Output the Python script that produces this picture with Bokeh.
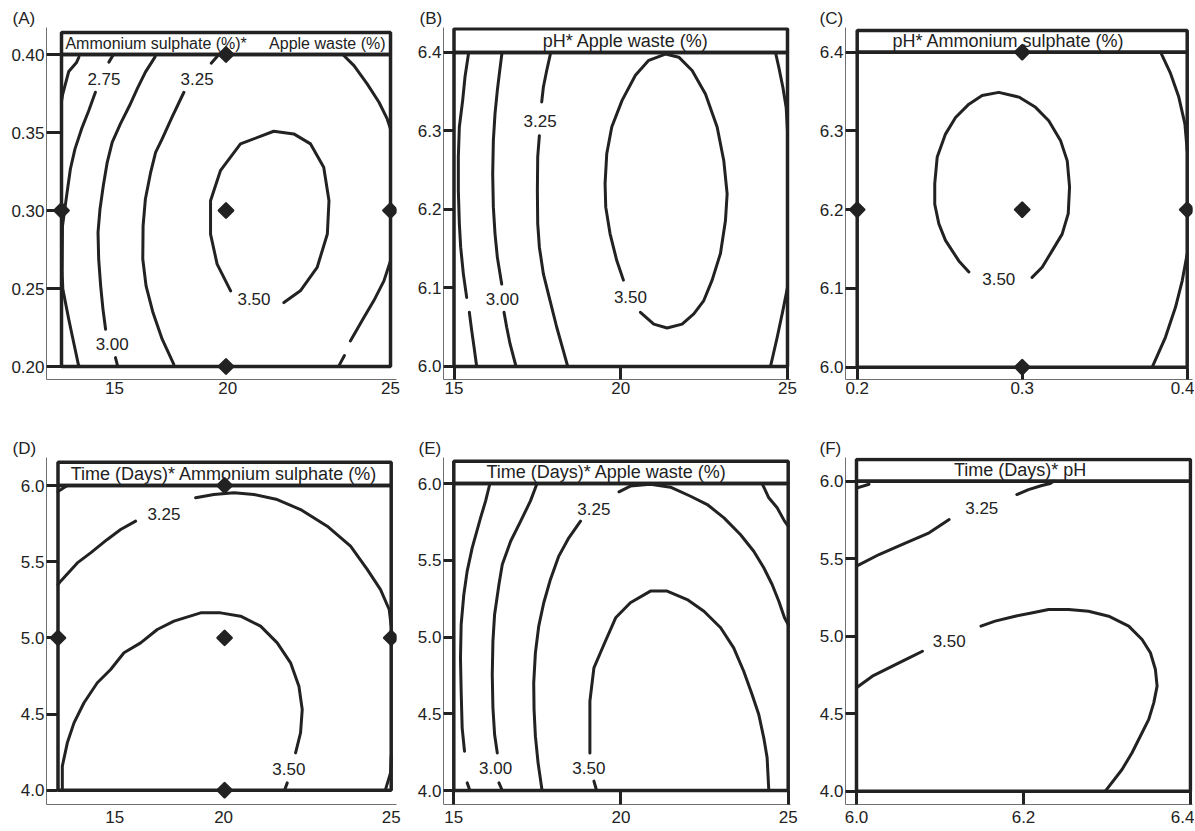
import math
from bokeh.plotting import figure
from bokeh.layouts import column, row
from bokeh.models import FixedTicker, PrintfTickFormatter
from bokeh.core.properties import value
from bokeh.embed import file_html
from bokeh.resources import INLINE

FONT = "Liberation Sans"
INK = "#222222"

# ------------------------------------------------------------------ data
# (A) Ammonium sulphate (%) * Apple waste (%)
A_tag = "(A)"
A_headers = ["Ammonium sulphate (%)*", "Apple waste (%)"]
A_xtick_labels = ["15", "20", "25"]
A_yticks = [0.20, 0.25, 0.30, 0.35, 0.40]
A_design_x = [20, 20, 20, 15, 25]
A_design_y = [0.40, 0.30, 0.20, 0.30, 0.30]
A_lines_x = [
    [15.53, 15.45, 15.22, 15.12, 15.04, 15.0],
    [16.58, 16.44],
    [16.03, 15.83, 15.61, 15.41, 15.27, 15.17, 15.10, 15.03, 15.02, 15.04, 15.22, 15.37, 15.51, 15.54],
    [17.86, 17.84, 17.55, 17.30, 17.07, 16.79, 16.54, 16.39, 16.27, 16.17, 16.11, 16.13, 16.19, 16.26, 16.34],
    [16.64, 16.70, 16.71],
    [19.76, 19.73, 19.55],
    [18.72, 18.36, 18.06, 17.86, 17.71, 17.55, 17.48, 17.47, 17.57, 17.78, 18.06, 18.41, 18.42],
    [23.57, 23.58, 23.89, 24.29, 24.65, 24.90, 25.0],
    [25.0, 24.80, 24.49, 24.19, 23.78],
    [23.60, 23.43, 23.42],
    [21.76, 22.26, 22.77, 23.08, 23.13, 22.97, 22.57, 22.06, 21.45, 20.44, 19.83, 19.53, 19.53, 19.73, 20.14],
]
A_lines_y = [
    [0.3983, 0.3947, 0.3891, 0.3812, 0.3748, 0.370],
    [0.4, 0.3951],
    [0.3758, 0.3641, 0.3523, 0.3395, 0.3266, 0.3116, 0.3009, 0.29, 0.26, 0.2496, 0.2303, 0.2154, 0.2015, 0.2],
    [0.4, 0.3983, 0.3887, 0.3780, 0.3673, 0.3555, 0.3437, 0.3309, 0.3159, 0.3009, 0.2860, 0.2689, 0.2517, 0.2368, 0.2239],
    [0.2057, 0.2008, 0.2],
    [0.4, 0.3987, 0.3944],
    [0.3758, 0.3598, 0.3459, 0.3373, 0.3245, 0.3074, 0.2902, 0.2689, 0.2517, 0.2346, 0.2175, 0.2015, 0.2],
    [0.4, 0.3994, 0.3929, 0.3812, 0.3694, 0.3587, 0.3523],
    [0.2678, 0.2549, 0.2421, 0.2314, 0.2164],
    [0.2070, 0.2004, 0.2],
    [0.2410, 0.2485, 0.2635, 0.2849, 0.3063, 0.3277, 0.3427, 0.3491, 0.3508, 0.3427, 0.3255, 0.3063, 0.2849, 0.2656, 0.2485],
]
A_level_text = ["2.75", "3.00", "3.25", "3.50"]
A_level_x = [16.29, 16.54, 19.12, 20.85]
A_level_y = [0.3844, 0.2147, 0.3844, 0.2432]

# (B) pH * Apple waste (%)
B_tag = "(B)"
B_headers = ["pH* Apple waste (%)"]
B_xticks = [15, 20, 25]
B_yticks = [6.0, 6.1, 6.2, 6.3, 6.4]
B_lines_x = [
    [15.44, 15.33, 15.26, 15.16, 15.13, 15.13, 15.16, 15.20, 15.28, 15.38],
    [15.46, 15.53, 15.60, 15.68],
    [16.44, 16.36, 16.30, 16.23, 16.18, 16.16, 16.18, 16.23, 16.30, 16.38, 16.43],
    [16.50, 16.58, 16.68, 16.86],
    [17.90, 17.78, 17.68, 17.63],
    [17.56, 17.51, 17.50, 17.51, 17.56, 17.68, 17.88, 18.08, 18.28, 18.41],
    [20.59, 20.99, 21.39, 21.84, 22.19, 22.49, 22.74, 22.99, 23.14, 23.19, 23.09, 22.89, 22.54,
     22.14, 21.74, 21.34, 20.84, 20.44, 20.04, 19.73, 19.58, 19.53, 19.55, 19.68, 19.88, 20.08],
    [24.64, 24.74, 24.86, 24.96, 25.0],
    [25.0, 24.86, 24.69, 24.49],
]
B_lines_y = [
    [6.4, 6.369, 6.339, 6.305, 6.267, 6.224, 6.182, 6.152, 6.118, 6.088],
    [6.069, 6.046, 6.025, 6.0],
    [6.4, 6.373, 6.352, 6.322, 6.288, 6.245, 6.203, 6.169, 6.139, 6.118, 6.105],
    [6.069, 6.050, 6.029, 6.0],
    [6.4, 6.377, 6.356, 6.337],
    [6.294, 6.267, 6.224, 6.182, 6.152, 6.118, 6.084, 6.050, 6.020, 6.0],
    [6.069, 6.054, 6.049, 6.054, 6.067, 6.084, 6.110, 6.144, 6.186, 6.220, 6.262, 6.305, 6.347,
     6.377, 6.394, 6.398, 6.390, 6.371, 6.339, 6.305, 6.271, 6.233, 6.203, 6.169, 6.135, 6.110],
    [6.4, 6.381, 6.356, 6.330, 6.30],
    [6.101, 6.071, 6.037, 6.0],
]
B_level_text = ["3.00", "3.25", "3.50"]
B_level_x = [16.45, 17.58, 20.29]
B_level_y = [6.086, 6.313, 6.088]

# (C) pH * Ammonium sulphate (%)
C_tag = "(C)"
C_headers = ["pH* Ammonium sulphate (%)"]
C_xticks = [0.2, 0.3, 0.4]
C_yticks = [6.0, 6.1, 6.2, 6.3, 6.4]
C_design_x = [0.3, 0.3, 0.3, 0.2, 0.4]
C_design_y = [6.4, 6.2, 6.0, 6.2, 6.2]
C_lines_x = [
    [0.3060, 0.3121, 0.3182, 0.3242, 0.3279, 0.3287, 0.3273, 0.3232, 0.3161, 0.3081, 0.2980, 0.2858,
     0.2757, 0.2677, 0.2596, 0.2535, 0.2485, 0.2470, 0.2470, 0.2495, 0.2535, 0.2616, 0.2677],
    [0.3840, 0.3848, 0.3899, 0.3949, 0.3986, 0.40],
    [0.40, 0.3970, 0.3929, 0.3868, 0.3788],
]
C_lines_y = [
    [6.114, 6.127, 6.148, 6.169, 6.195, 6.229, 6.262, 6.288, 6.313, 6.330, 6.343, 6.349,
     6.345, 6.334, 6.317, 6.296, 6.267, 6.233, 6.207, 6.182, 6.161, 6.135, 6.121],
    [6.4, 6.396, 6.373, 6.343, 6.309, 6.275],
    [6.144, 6.110, 6.076, 6.038, 6.0],
]
C_level_text = ["3.50"]
C_level_x = [0.2858]
C_level_y = [6.112]

# (D) Time (Days) * Ammonium sulphate (%)
D_tag = "(D)"
D_headers = ["Time (Days)* Ammonium sulphate (%)"]
D_xtick_labels = ["15", "20", "25"]
D_yticks = [4.0, 4.5, 5.0, 5.5, 6.0]
D_design_x = [20, 20, 20, 15, 25]
D_design_y = [6.0, 5.0, 4.0, 5.0, 5.0]
D_lines_x = [
    [15.0, 15.28],
    [15.0, 15.08, 15.58, 15.98, 16.48, 16.88, 17.33],
    [19.13, 19.68, 20.28, 20.88, 21.58, 22.28, 23.08, 23.78, 24.28, 24.68, 24.94, 25.0],
    [25.0, 24.98, 24.83],
    [15.13, 15.13, 15.28, 15.48, 15.78, 16.18, 16.58, 16.98, 17.48, 17.98, 18.48, 19.28, 19.88,
     20.48, 21.08, 21.58, 21.98, 22.23, 22.33, 22.28, 22.13],
    [21.88, 21.80],
]
D_lines_y = [
    [5.96, 6.0],
    [5.35, 5.372, 5.492, 5.558, 5.646, 5.711, 5.766],
    [5.919, 5.941, 5.952, 5.941, 5.908, 5.842, 5.733, 5.602, 5.449, 5.317, 5.186, 5.077],
    [4.223, 4.114, 4.005],
    [4.0, 4.158, 4.311, 4.442, 4.574, 4.705, 4.792, 4.902, 4.967, 5.055, 5.110, 5.164, 5.164,
     5.142, 5.077, 4.967, 4.836, 4.683, 4.530, 4.377, 4.245],
    [4.048, 4.0],
]
D_level_text = ["3.25", "3.50"]
D_level_x = [18.18, 21.93]
D_level_y = [5.810, 4.136]

# (E) Time (Days) * Apple waste (%)
E_tag = "(E)"
E_headers = ["Time (Days)* Apple waste (%)"]
E_xticks = [15, 20, 25]
E_yticks = [4.0, 4.5, 5.0, 5.5, 6.0]
E_lines_x = [
    [16.08, 15.95, 15.80, 15.55, 15.40, 15.30, 15.22, 15.20, 15.22, 15.25, 15.32],
    [15.40, 15.48],
    [17.49, 17.29, 17.00, 16.70, 16.45, 16.35, 16.22, 16.17, 16.15, 16.17, 16.22, 16.30],
    [16.35, 16.45],
    [18.79, 18.44, 18.14, 17.89, 17.69, 17.54, 17.44, 17.39, 17.40, 17.44, 17.52, 17.64],
    [19.94, 20.28, 20.88, 21.48, 22.08, 22.58, 23.08, 23.57, 23.97, 24.27, 24.52, 24.72, 24.89, 25.0],
    [24.22, 24.42, 24.67, 24.89, 25.0],
    [19.07, 19.07, 19.19, 19.49, 19.84, 20.28, 20.88, 21.38, 21.98, 22.48, 22.98, 23.37, 23.67,
     23.92, 24.12, 24.27, 24.37, 24.42],
    [19.19, 19.27],
]
E_lines_y = [
    [6.0, 5.885, 5.776, 5.581, 5.429, 5.277, 5.081, 4.864, 4.647, 4.408, 4.256],
    [4.050, 4.0],
    [6.0, 5.885, 5.755, 5.624, 5.472, 5.342, 5.147, 4.973, 4.756, 4.539, 4.365, 4.245],
    [4.050, 4.0],
    [5.755, 5.646, 5.527, 5.375, 5.223, 5.071, 4.897, 4.701, 4.528, 4.354, 4.180, 4.0],
    [5.946, 5.983, 5.995, 5.976, 5.917, 5.863, 5.776, 5.668, 5.559, 5.451, 5.342, 5.233, 5.125, 5.081],
    [6.0, 5.907, 5.842, 5.755, 5.722],
    [4.245, 4.582, 4.799, 4.951, 5.125, 5.223, 5.299, 5.299, 5.244, 5.168, 5.060, 4.929, 4.777,
     4.625, 4.495, 4.343, 4.213, 4.0],
    [4.061, 4.0],
]
E_level_text = ["3.00", "3.25", "3.50"]
E_level_x = [16.25, 19.19, 19.04]
E_level_y = [4.148, 5.835, 4.148]

# (F) Time (Days) * pH
F_tag = "(F)"
F_headers = ["Time (Days)* pH"]
F_xticks = [6.0, 6.2, 6.4]
F_yticks = [4.0, 4.5, 5.0, 5.5, 6.0]
F_lines_x = [
    [6.0, 6.015],
    [6.0, 6.027, 6.055, 6.087, 6.111],
    [6.192, 6.206, 6.222, 6.232, 6.236],
    [6.0, 6.019, 6.043, 6.063, 6.079],
    [6.149, 6.166, 6.190, 6.214, 6.230, 6.254, 6.278, 6.302, 6.326, 6.342, 6.352, 6.358, 6.360,
     6.356, 6.350, 6.342, 6.330, 6.318, 6.298],
]
F_lines_y = [
    [5.955, 5.98],
    [5.452, 5.527, 5.592, 5.667, 5.753],
    [5.914, 5.946, 5.972, 5.985, 6.0],
    [4.667, 4.742, 4.807, 4.860, 4.903],
    [5.065, 5.097, 5.129, 5.155, 5.172, 5.172, 5.161, 5.129, 5.065, 4.979, 4.893, 4.785, 4.678,
     4.570, 4.463, 4.377, 4.248, 4.140, 4.0],
]
F_level_text = ["3.25", "3.50"]
F_level_x = [6.150, 6.111]
F_level_y = [5.828, 4.968]


# ------------------------------------------------------------------ drawing
def build(c):
    x0, x1 = c["xr"]
    y0, y1 = c["yr"]
    w, h = c["size"]
    bl, br, bt, bb = c["borders"]
    p = figure(width=w, height=h, x_range=(x0, x1), y_range=(y0, y1),
               output_backend="svg", toolbar_location=None, title=c["tag"],
               min_border_left=bl, min_border_right=br,
               min_border_top=bt, min_border_bottom=bb)
    fw, fh = w - bl - br, h - bt - bb
    sx, sy = fw / (x1 - x0), fh / (y1 - y0)
    bx0, bx1, by0, by1, htop = c["box"]
    p.grid.visible = False
    p.outline_line_color = None
    p.background_fill_color = "white"
    p.border_fill_color = "white"

    # panel tag as title, placed left of the frame
    p.title.align = "left"
    p.title.offset = c["tagoff"]
    p.title.standoff = 0
    p.title.text_font = FONT
    p.title.text_font_size = "17px"
    p.title.text_font_style = "normal"
    p.title.text_color = INK

    for ax in (p.xaxis[0], p.yaxis[0]):
        ax.axis_line_color = "#707070"
        ax.axis_line_width = 1
        ax.major_tick_out = 0
        ax.minor_tick_line_color = None
        ax.major_tick_line_color = INK
        ax.major_tick_line_width = 3
        ax.major_label_text_font = FONT
        ax.major_label_text_font_size = "17px"
        ax.major_label_text_color = INK
    p.yaxis[0].major_label_standoff = 2
    p.xaxis[0].major_label_standoff = c["xstand"]
    p.yaxis[0].major_tick_in = int(round((bx0 - x0) * sx))
    p.xaxis[0].major_tick_in = int(round((by0 - y0) * sy))

    p.xaxis[0].ticker = FixedTicker(ticks=c["xticks"])
    p.yaxis[0].ticker = FixedTicker(ticks=c["yticks"])
    if c.get("xfmt"):
        p.xaxis[0].formatter = PrintfTickFormatter(format=c["xfmt"])
    p.yaxis[0].formatter = PrintfTickFormatter(format=c["yfmt"])
    if c.get("xoverride"):
        p.xaxis[0].major_label_overrides = dict(zip(c["xticks"], c["xoverride"]))
        p.xaxis[0].major_tick_line_color = None

    # heavy frame + header strip
    p.quad(left=[bx0, bx0], right=[bx1, bx1], bottom=[by0, by1], top=[by1, htop],
           fill_color=None, line_color=INK, line_width=3.5)

    # contour lines
    p.multi_line(xs=c["lx"], ys=c["ly"], line_color=INK, line_width=3,
                 line_join="round", line_cap="round")

    # contour level labels
    p.text(x=c["tx"], y=c["ty"], text=c["tt"], text_font=value(FONT),
           text_font_size="17px", text_align="center", text_baseline="middle",
           text_color=INK)

    # header text
    for txt, hx, align in zip(c["headers"], c["hx"], c["halign"]):
        p.text(x=[hx], y=[(by1 + htop) / 2], text=[txt], text_font=value(FONT),
               text_font_size=c["hsize"], text_align=align, text_baseline="middle",
               text_color=INK)

    # design points
    if c.get("dx"):
        p.scatter(x=c["dx"], y=c["dy"], marker="square", angle=math.pi / 4, size=10,
                  fill_color=INK, line_color=INK, line_width=2.5, line_join="round")
    return p


ROW1_H, ROW2_H = 436, 394
W1, W2, W3 = 405, 402, 387
B1 = (46, 9)
B2 = (38, 17)
B3 = (38, 2)
T1 = (27, 57)
T2 = (21, 26)

cfgA = dict(tag=A_tag, xr=(14.544, 25.182), yr=(0.19167, 0.41731), size=(W1, ROW1_H),
            borders=B1 + T1, box=(15, 25, 0.2, 0.4, 0.4141), xstand=2,
            xticks=[16.61, 20.05, 25.0], xoverride=A_xtick_labels,
            yticks=A_yticks, yfmt="%.2f",
            lx=A_lines_x, ly=A_lines_y, tx=A_level_x, ty=A_level_y, tt=A_level_text,
            headers=A_headers, hx=[15.12, 24.85], halign=["left", "right"], hsize="16px",
            dx=A_design_x, dy=A_design_y, tagoff=-34)
cfgB = dict(tag=B_tag, xr=(14.685, 25.09), yr=(5.98344, 6.4318), size=(W2, ROW1_H),
            borders=B2 + T1, box=(15, 25, 6.0, 6.4, 6.4302), xstand=2,
            xticks=B_xticks, xfmt="%d", yticks=B_yticks, yfmt="%.1f",
            lx=B_lines_x, ly=B_lines_y, tx=B_level_x, ty=B_level_y, tt=B_level_text,
            headers=B_headers, hx=[20.15], halign=["center"], hsize="18px", tagoff=-24)
cfgC = dict(tag=C_tag, xr=(0.19291, 0.40321), yr=(5.98438, 6.43137), size=(W3, ROW1_H),
            borders=B3 + T1, box=(0.2, 0.4, 6.0, 6.4, 6.4276), xstand=2,
            xticks=C_xticks, xfmt="%.1f", yticks=C_yticks, yfmt="%.1f",
            lx=C_lines_x, ly=C_lines_y, tx=C_level_x, ty=C_level_y, tt=C_level_text,
            headers=C_headers, hx=[0.2917], halign=["center"], hsize="18px",
            dx=C_design_x, dy=C_design_y, tagoff=-26)
cfgD = dict(tag=D_tag, xr=(14.655, 25.159), yr=(3.9061, 6.1838), size=(W1, ROW2_H),
            borders=B1 + T2, box=(15, 25, 4.0, 6.0, 6.153), xstand=6,
            xticks=[16.70, 19.97, 25.0], xoverride=D_xtick_labels,
            yticks=D_yticks, yfmt="%.1f",
            lx=D_lines_x, ly=D_lines_y, tx=D_level_x, ty=D_level_y, tt=D_level_text,
            headers=D_headers, hx=[19.98], halign=["center"], hsize="18px",
            dx=D_design_x, dy=D_design_y, tagoff=-34)
cfgE = dict(tag=E_tag, xr=(14.692, 25.069), yr=(3.9088, 6.1694), size=(W2, ROW2_H),
            borders=B2 + T2, box=(15, 25, 4.0, 6.0, 6.1453), xstand=6,
            xticks=E_xticks, xfmt="%d", yticks=E_yticks, yfmt="%.1f",
            lx=E_lines_x, ly=E_lines_y, tx=E_level_x, ty=E_level_y, tt=E_level_text,
            headers=E_headers, hx=[19.57], halign=["center"], hsize="18px", tagoff=-25)
cfgF = dict(tag=F_tag, xr=(5.98683, 6.4024), yr=(3.9142, 6.1529), size=(W3, ROW2_H),
            borders=B3 + T2, box=(6.0, 6.4, 4.0, 6.0, 6.14), xstand=6,
            xticks=F_xticks, xfmt="%.1f", yticks=F_yticks, yfmt="%.1f",
            lx=F_lines_x, ly=F_lines_y, tx=F_level_x, ty=F_level_y, tt=F_level_text,
            headers=F_headers, hx=[6.196], halign=["center"], hsize="18px", tagoff=-26)

plots = [build(c) for c in (cfgA, cfgB, cfgC, cfgD, cfgE, cfgF)]
layout = column(row(*plots[:3], spacing=0), row(*plots[3:], spacing=0), spacing=0)

open("out.html", "w").write(file_html(layout, INLINE))
